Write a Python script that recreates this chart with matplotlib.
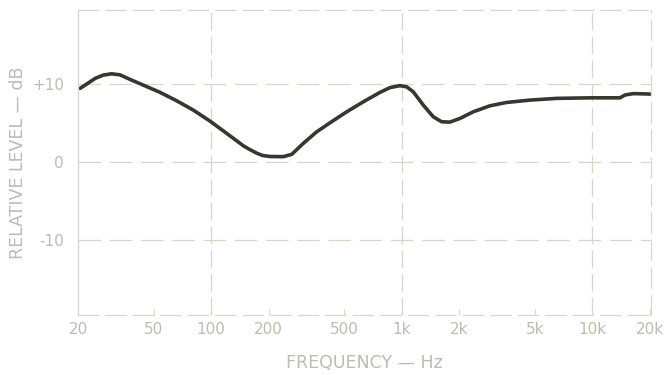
import matplotlib.pyplot as plt

# Frequenzgang
freq = [20.5, 22.2, 24.6, 27.1, 30.0, 33.2, 37.5, 44.0, 53.9, 65.9, 80.5,
        98.5, 120.6, 147.3, 159.7, 173.2, 186, 204, 239, 264.4, 304.2,
        357.5, 420, 514, 628, 768, 867, 978, 1061, 1149, 1296, 1463, 1619,
        1790, 2019, 2371, 2901, 3550, 4705, 6496, 9709, 13953, 14823, 16386,
        18494, 20050]
level = [9.45, 10.0, 10.73, 11.15, 11.32, 11.19, 10.6, 9.87, 8.94, 7.86, 6.67,
         5.26, 3.68, 2.1, 1.6, 1.15, 0.85, 0.72, 0.7, 0.99, 2.4,
         3.88, 5.04, 6.45, 7.73, 8.94, 9.55, 9.8, 9.65, 9.01, 7.31, 5.81, 5.17,
         5.13, 5.6, 6.45, 7.22, 7.65, 7.95, 8.17, 8.24, 8.24, 8.6, 8.78,
         8.75, 8.72]

xticks = [20, 50, 100, 200, 500, 1000, 2000, 5000, 10000, 20000]
xlabels = ['20', '50', '100', '200', '500', '1k', '2k', '5k', '10k', '20k']
yticks = [10, 0, -10]
ylabels = ['+10', '0', '-10']

grid_col = '#d6d6ca'
text_col = '#bcbcb0'

fig = plt.figure(figsize=(6.67, 3.75), dpi=100)
ax = fig.add_axes([78 / 667, 1 - 315 / 375, (651 - 78) / 667, (315 - 10) / 375])

ax.set_xscale('log')
ax.set_xlim(20, 20300)
ax.set_ylim(-19.6, 19.5)

# Gitter
for f in [100, 1000, 10000]:
    ax.axvline(f, color=grid_col, lw=0.9, ls=(0, (14, 5)))
for y in yticks:
    ax.axhline(y, color=grid_col, lw=0.9, ls=(0, (18, 7)))

for side in ['top', 'bottom', 'right']:
    ax.spines[side].set_color(grid_col)
    ax.spines[side].set_linestyle((0, (16, 6)))
ax.spines['left'].set_color(grid_col)
for s in ax.spines.values():
    s.set_linewidth(0.9)

ax.plot(freq, level, color='#34382e', lw=2.6, solid_capstyle='round',
        solid_joinstyle='round')

ax.set_xticks(xticks)
ax.set_xticklabels(xlabels)
ax.minorticks_off()
ax.set_yticks(yticks)
ax.set_yticklabels(ylabels)
ax.tick_params(axis='both', colors=grid_col, labelcolor=text_col,
               direction='in', length=4, labelsize=11)
ax.tick_params(axis='x', pad=5)
ax.tick_params(axis='y', pad=10)

ax.set_xlabel('FREQUENCY — Hz', color=text_col, fontsize=12.5, labelpad=12)
ax.set_ylabel('RELATIVE LEVEL — dB', color=text_col, fontsize=12.5, labelpad=4)

fig.savefig('out.png', dpi=100)
